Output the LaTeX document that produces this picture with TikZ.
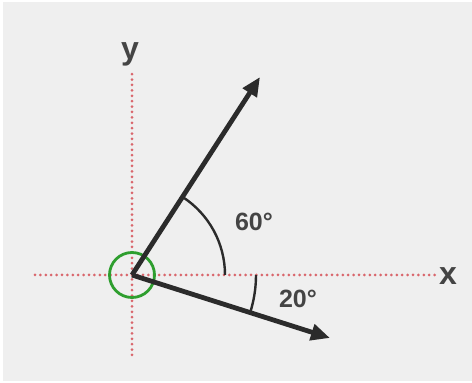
\documentclass[tikz,border=0pt]{standalone}
\usepackage{fontspec}
\setmainfont{Liberation Sans}
\usetikzlibrary{arrows.meta,positioning}

\definecolor{panelgray}{HTML}{EFEFEF}
\definecolor{axisred}{HTML}{D9666C}
\definecolor{ringgreen}{HTML}{2E9E2E}
\definecolor{inkgray}{HTML}{2B2B2B}
\definecolor{labelgray}{HTML}{444444}

\tikzset{
  axisline/.style={axisred, line width=3pt, line cap=round, dash pattern=on 0pt off 5.4pt},
  vector/.style={inkgray, line width=4.8pt, -{Triangle[length=19pt,width=16pt]}},
  anglearc/.style={inkgray, line width=2.4pt},
  anglelabel/.style={labelgray, font=\fontsize{25}{28}\selectfont\bfseries, inner sep=0pt},
  axislabel/.style={labelgray, font=\fontsize{32}{35}\selectfont\bfseries, inner sep=0pt, anchor=base}
}

\begin{document}
\begin{tikzpicture}[x=1pt,y=1pt]

  \useasboundingbox (0,0) rectangle (472,383);
  \fill[panelgray] (3,2) rectangle (472,381);

  % axes
  \coordinate (origin) at (132,108);
  \coordinate (xstart) at (35,108);
  \coordinate (xend)   at (435,108);
  \coordinate (ystart) at (132,28);
  \coordinate (yend)   at (132,313);
  \draw[axisline] (xstart) -- (xend);
  \draw[axisline] (ystart) -- (yend);

  \node[axislabel] (xlabel) at (448,98)  {x};
  \node[axislabel] (ylabel) at (130,323) {y};

  % ring at the origin
  \draw[ringgreen, line width=2.8pt] (origin) circle[radius=22.5];

  % vectors
  \coordinate (tipup)   at (260,306);
  \coordinate (tipdown) at (330,45);
  \draw[vector] (origin) -- (tipup);
  \draw[vector] (origin) -- (tipdown);

  % angles
  \draw[anglearc] (origin) ++(0:93) arc[start angle=0, end angle=57.1, radius=93];
  \draw[anglearc] (origin) ++(0:124) arc[start angle=0, end angle=-17.6, radius=124];

  \node[anglelabel] (sixty)  at (254,161) {60°};
  \node[anglelabel] (twenty) at (298,84)  {20°};

\end{tikzpicture}
\end{document}
